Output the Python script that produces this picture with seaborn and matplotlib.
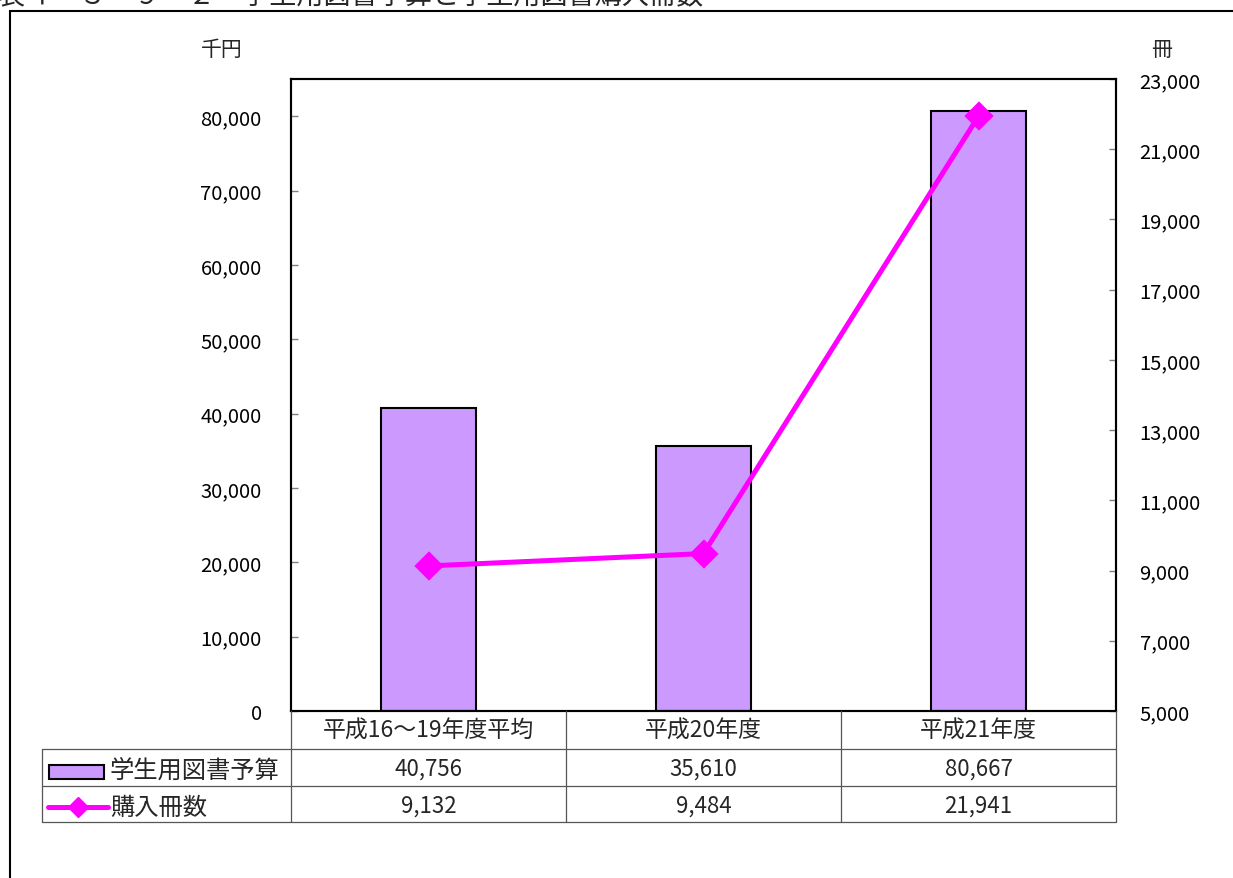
import numpy as np
import pandas as pd
import matplotlib
matplotlib.use("Agg")
import matplotlib.pyplot as plt
import matplotlib.transforms as mtransforms
from matplotlib.patches import Rectangle
from matplotlib.lines import Line2D
from matplotlib.ticker import FuncFormatter
import seaborn as sns

# ---- data ----
categories = ["平成16〜19年度平均", "平成20年度", "平成21年度"]
budget = [40756, 35610, 80667]      # 学生用図書予算（千円）
volumes = [9132, 9484, 21941]       # 購入冊数（冊）
series_names = ["学生用図書予算", "購入冊数"]
left_unit = "千円"
right_unit = "冊"
title = "表４－３－９－２　学生用図書予算と学生用図書購入冊数"

BAR = "#CC99FF"
LINE = "#FF00FF"
GRID = "#555555"

sns.set_theme(style="white")
plt.rcParams["font.family"] = ["Noto Sans CJK JP", "DejaVu Sans"]

W, H = 1233, 879
fig = plt.figure(figsize=(W / 100, H / 100), dpi=100)


def fx(px):
    return px / W


def fy(py):
    return 1 - py / H


ax = fig.add_axes([fx(291), fy(712), fx(1116) - fx(291), fy(80) - fy(712)])
df = pd.DataFrame({"区分": categories, "予算": budget, "冊数": volumes})

sns.barplot(data=df, x="区分", y="予算", order=categories, color=BAR,
            saturation=1, edgecolor="black", linewidth=1.5, width=0.345,
            errorbar=None, ax=ax)

ax2 = ax.twinx()
sns.pointplot(data=df, x="区分", y="冊数", order=categories, color=LINE,
              markers="D", linestyles="-", markersize=12, linewidth=3.6,
              errorbar=None, ax=ax2)

ax.set_xlim(-0.5, len(categories) - 0.5)
for a in (ax, ax2):
    a.set_xlabel("")
    a.set_ylabel("")
    a.tick_params(axis="x", bottom=False, labelbottom=False, top=False)

fmt = FuncFormatter(lambda v, _: f"{v:,.0f}")
ax.set_ylim(0, 85000)
ax.set_yticks(np.arange(0, 80001, 10000))
ax.yaxis.set_major_formatter(fmt)
ax.tick_params(axis="y", direction="in", length=5, width=1, color="gray",
               pad=21, labelsize=14.5, left=True, labelcolor="black")

ax2.set_ylim(5000, 23000)
ax2.set_yticks(np.arange(5000, 23001, 2000))
ax2.yaxis.set_major_formatter(fmt)
ax2.tick_params(axis="y", direction="in", length=5, width=1, color="gray",
                pad=17, labelsize=14.5, right=True, labelcolor="black")

for a in (ax, ax2):
    for s in a.spines.values():
        s.set_color("black")
        s.set_linewidth(1.5)

# axis units
fig.text(fx(222), fy(50), left_unit, ha="center", va="center", fontsize=15)
fig.text(fx(1162), fy(50), right_unit, ha="center", va="center", fontsize=15)

# ---- data table under the plot ----
tr = mtransforms.blended_transform_factory(ax.transData, fig.transFigure)
n = len(categories)
x_right = n - 0.5
y_head_top, y_head_bot, y_row1, y_row2 = 712, 750, 787, 823

# column borders
for b in np.arange(-0.5, n, 1.0):
    fig.add_artist(Line2D([b, b], [fy(y_head_top), fy(y_row2)], transform=tr,
                          color=GRID, lw=0.9))
# legend column left border
fig.add_artist(Line2D([fx(42), fx(42)], [fy(y_head_bot), fy(y_row2)],
                      transform=fig.transFigure, color=GRID, lw=0.9))
# row borders
x_left_data = ax.transData.inverted().transform((fx(42) * W, 0))[0]
for yy in (y_head_bot, y_row1, y_row2):
    fig.add_artist(Line2D([x_left_data, x_right], [fy(yy), fy(yy)],
                          transform=tr, color=GRID, lw=0.9))

for i, cat in enumerate(categories):
    fig.text(i, fy(731), cat, transform=tr, ha="center", va="center",
             fontsize=16.5)
    fig.text(i, fy(769), f"{budget[i]:,}", transform=tr, ha="center",
             va="center", fontsize=16)
    fig.text(i, fy(806), f"{volumes[i]:,}", transform=tr, ha="center",
             va="center", fontsize=16)

# legend keys inside the table
fig.add_artist(Rectangle((fx(49), fy(780)), fx(104) - fx(49), fy(766) - fy(780),
                         transform=fig.transFigure, facecolor=BAR,
                         edgecolor="black", lw=1.5))
fig.add_artist(Line2D([fx(48), fx(108)], [fy(808), fy(808)],
                      transform=fig.transFigure, color=LINE, lw=3.6))
fig.add_artist(Line2D([fx(78)], [fy(808)], transform=fig.transFigure,
                      color=LINE, marker="D", markersize=10, lw=0))
fig.text(fx(110), fy(771), series_names[0], ha="left", va="center", fontsize=17.5)
fig.text(fx(110), fy(808), series_names[1], ha="left", va="center", fontsize=17.5)

# outer frame
fig.add_artist(Rectangle((fx(10), fy(950)), fx(1300) - fx(10), fy(12) - fy(950),
                         transform=fig.transFigure, fill=False,
                         edgecolor="black", lw=1.5))

# caption along the top edge
fig.text(fx(-2), fy(-4), title, ha="left", va="center", fontsize=19.5)

fig.savefig("out.png", dpi=100)
